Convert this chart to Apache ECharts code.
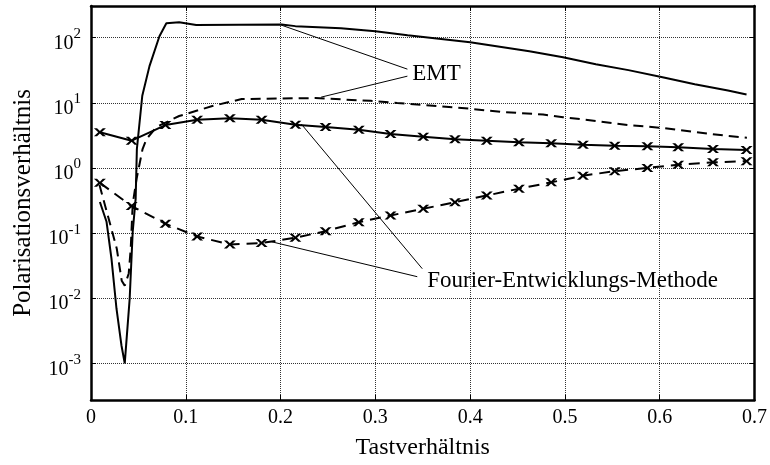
<!DOCTYPE html>
<html>
<head>
<meta charset="utf-8">
<script src="https://cdn.jsdelivr.net/npm/echarts@6/dist/echarts.min.js"></script>
<style>html,body{margin:0;padding:0;background:#fff;}#c{width:770px;height:465px;}</style>
</head>
<body>
<div id="c"></div>
<script>
// ---- data ----
var xTicks = [0, 0.1, 0.2, 0.3, 0.4, 0.5, 0.6, 0.7];
var yTickExps = [-3, -2, -1, 0, 1, 2];

var emtSolidX = [0.0094,0.0164,0.0216,0.0269,0.0321,0.0356,0.0408,0.044,0.0471,0.0484,0.0541,0.0617,0.0722,0.0795,0.093,0.111,0.201,0.2156,0.2637,0.300,0.334,0.400,0.4625,0.498,0.5326,0.567,0.603,0.637,0.672,0.6916];
var emtSolidY = [0.30,0.149,0.0404,0.0069,0.0019,0.001,0.0098,0.105,0.335,1.95,12.8,36.5,105,166,172,156,159,150,139,125,109,85,61.7,50,39,31.7,24.6,19.3,15.4,13.4];

var emtDashX = [0.0089,0.0178,0.0272,0.0324,0.0356,0.0398,0.0419,0.044,0.0481,0.0523,0.0544,0.0586,0.069,0.093,0.128,0.159,0.2365,0.295,0.323,0.365,0.400,0.435,0.477,0.498,0.533,0.567,0.603,0.637,0.672,0.692];
var emtDashY = [0.55,0.184,0.0575,0.0186,0.0156,0.024,0.0575,0.28,0.68,1.37,1.95,2.78,4.25,6.26,8.9,11.4,11.8,10.7,9.9,8.9,8.1,7.2,6.6,6.0,5.25,4.55,4.1,3.56,3.09,2.91];

var femX = [0.0094,0.0429,0.0785,0.112,0.1465,0.180,0.2156,0.2475,0.2825,0.316,0.3505,0.384,0.4175,0.4515,0.4855,0.519,0.5525,0.587,0.6195,0.6562,0.6916];
var femSolidY = [3.52,2.62,4.55,5.5,5.77,5.5,4.6,4.25,3.86,3.32,3.01,2.75,2.62,2.47,2.39,2.27,2.19,2.15,2.07,1.95,1.89];
var femDashY = [0.59,0.26,0.139,0.0887,0.067,0.0703,0.0847,0.107,0.147,0.186,0.236,0.298,0.377,0.48,0.60,0.76,0.89,1.0,1.12,1.22,1.27];

// annotation anchors in data coordinates
var emtLabel = {text: 'EMT', x: 0.339, y: 27.5};
var emtLeaders = [[[0.201, 155], [0.3338, 32.8]], [[0.3338, 25.6], [0.2428, 12.2]]];
var femLabel = {text: 'Fourier-Entwicklungs-Methode', x: 0.3547, y: 0.0186};
var femLeaders = [[[0.2218, 4.72], [0.3495, 0.0284]], [[0.1904, 0.0736], [0.3442, 0.0214]]];

// ---- chart ----
function zip(xs, ys) { return xs.map(function (x, i) { return [x, ys[i]]; }); }
var FONT = 'Liberation Serif';
var yMin = Math.pow(10, -3.562), yMax = Math.pow(10, 2.485);
var crossPath = 'path://M0,0L2.6,0L5,2.3L7.4,0L10,0L6.4,3.3L10,6.6L7.4,6.6L5,4.3L2.6,6.6L0,6.6L3.6,3.3Z';

var chart = echarts.init(document.getElementById('c'), null, {renderer: 'canvas'});
var gridLine = {show: true, lineStyle: {color: '#333', type: 'dotted', width: 1}};
var option = {
  animation: false,
  backgroundColor: '#fff',
  grid: {left: 91, right: 10, top: 6, bottom: 64, containLabel: false},
  xAxis: [{
    type: 'value', min: xTicks[0], max: xTicks[xTicks.length - 1], interval: 0.1,
    name: 'Tastverhältnis', nameLocation: 'middle', nameGap: 36,
    nameTextStyle: {fontFamily: FONT, fontSize: 24, color: '#000'},
    axisLine: {show: true, onZero: false, lineStyle: {color: '#000', width: 2.5}},
    axisTick: {show: true, inside: true, length: 5, lineStyle: {color: '#000'}},
    axisLabel: {fontFamily: FONT, fontSize: 20, color: '#000', margin: 8,
      formatter: function (v) { return v === 0 ? '0' : v.toFixed(1); }},
    splitLine: gridLine
  }, {
    type: 'value', position: 'top', min: xTicks[0], max: xTicks[xTicks.length - 1], interval: 0.1,
    axisLine: {show: true, onZero: false, lineStyle: {color: '#000', width: 2.5}},
    axisTick: {show: true, inside: true, length: 5, lineStyle: {color: '#000'}},
    axisLabel: {show: false}, splitLine: {show: false}
  }],
  yAxis: [{
    type: 'log', logBase: 10, min: yMin, max: yMax,
    name: 'Polarisationsverhältnis', nameLocation: 'middle', nameGap: 55,
    nameTextStyle: {fontFamily: FONT, fontSize: 25, color: '#000'},
    axisLine: {show: true, onZero: false, lineStyle: {color: '#000', width: 2.5}},
    axisTick: {show: true, inside: true, length: 5, lineStyle: {color: '#000'}},
    axisLabel: {
      showMinLabel: false, showMaxLabel: false, margin: 10,
      fontFamily: FONT, fontSize: 20, color: '#000', lineHeight: 27, padding: [5, 0, 0, 0],
      formatter: function (v) {
        var e = Math.round(Math.log10(v));
        if (yTickExps.indexOf(e) < 0 || Math.abs(Math.log10(v) - e) > 1e-6) return '';
        return '{b|10}{s|' + e + '}';
      },
      rich: {
        b: {fontFamily: FONT, fontSize: 20, color: '#000', verticalAlign: 'bottom'},
        s: {fontFamily: FONT, fontSize: 15, color: '#000', verticalAlign: 'top'}
      }
    },
    splitLine: gridLine
  }, {
    type: 'log', logBase: 10, min: yMin, max: yMax, position: 'right',
    axisLine: {show: true, onZero: false, lineStyle: {color: '#000', width: 2.5}},
    axisTick: {show: true, inside: true, length: 5, lineStyle: {color: '#000'}},
    axisLabel: {show: false}, splitLine: {show: false}
  }],
  series: [
    {name: 'EMT solid', type: 'line', data: zip(emtSolidX, emtSolidY), showSymbol: false, symbol: 'none',
      lineStyle: {color: '#000', width: 2}},
    {name: 'EMT dashed', type: 'line', data: zip(emtDashX, emtDashY), showSymbol: false, symbol: 'none',
      lineStyle: {color: '#000', width: 2, type: [10, 6]}},
    {name: 'FEM solid', type: 'line', data: zip(femX, femSolidY), symbol: crossPath, symbolSize: [12, 8],
      itemStyle: {color: '#000'}, lineStyle: {color: '#000', width: 2}},
    {name: 'FEM dashed', type: 'line', data: zip(femX, femDashY), symbol: crossPath, symbolSize: [12, 8],
      itemStyle: {color: '#000'}, lineStyle: {color: '#000', width: 2, type: [11, 7]}}
  ]
};
chart.setOption(option);

function px(p) { return chart.convertToPixel({gridIndex: 0}, p); }
var elements = [];
emtLeaders.concat(femLeaders).forEach(function (seg) {
  var a = px(seg[0]), b = px(seg[1]);
  elements.push({type: 'line', shape: {x1: a[0], y1: a[1], x2: b[0], y2: b[1]},
    style: {stroke: '#000', lineWidth: 1}, z: 50});
});
[emtLabel, femLabel].forEach(function (l) {
  var p = px([l.x, l.y]);
  elements.push({type: 'text', x: p[0], y: p[1], z: 60,
    style: {text: l.text, fontFamily: FONT, fontSize: 23, fill: '#000',
      verticalAlign: 'middle', align: 'left'}});
});
chart.setOption({graphic: {elements: elements}});
</script>
</body>
</html>
